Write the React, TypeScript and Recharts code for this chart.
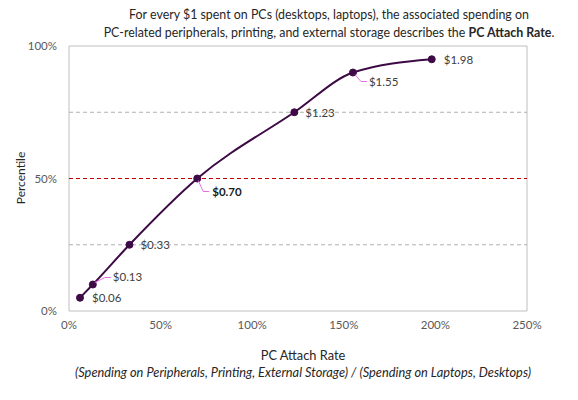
import {
    ComposedChart,
    Line,
    XAxis,
    YAxis,
    ReferenceLine,
    ReferenceArea,
    LabelList,
} from "recharts";

document.body.style.margin = "0";

const attachRates = [0.06, 0.13, 0.33, 0.7, 1.23, 1.55, 1.98];
const percentiles = [5, 10, 25, 50, 75, 90, 95];
const xTicks = [0, 0.5, 1, 1.5, 2, 2.5];
const yTicks = [0, 50, 100];

const chartData = attachRates.map((rate, i) => ({
    rate,
    pct: percentiles[i],
}));

const FONT = "Lato, 'Noto Sans', sans-serif";
const LINE_COLOR = "#3d0a45";
const LEADER_COLOR = "#e66ee6";

// where each point label sits relative to its dot, and an optional leader line
const labelPlacement = [
    { dx: 12, dy: 0 },
    { dx: 20, dy: -8, leader: [[2, -2], [12, -7], [18, -7]] },
    { dx: 11, dy: 0 },
    { dx: 15, dy: 13, bold: true, leader: [[1, 2], [6, 13], [12, 13]] },
    { dx: 11, dy: 0 },
    { dx: 16, dy: 9, leader: [[2, 2], [8, 9], [14, 9]] },
    { dx: 12, dy: 0 },
];

const renderPointLabel = (props: any) => {
    const { x, y, index } = props;
    const place = labelPlacement[index];
    const value = attachRates[index];
    return (
        <g>
            {place.leader && (
                <polyline
                    points={place.leader
                        .map(([px, py]) => `${x + px},${y + py}`)
                        .join(" ")}
                    fill="none"
                    stroke={LEADER_COLOR}
                    strokeWidth={1}
                />
            )}
            <text
                x={x + place.dx}
                y={y + place.dy}
                fill={place.bold ? "#1a1a1a" : "#404040"}
                fontSize={11.5}
                fontFamily={FONT}
                fontWeight={place.bold ? "bold" : "normal"}
                textAnchor="start"
                dominantBaseline="central"
            >
                {`$${value.toFixed(2)}`}
            </text>
        </g>
    );
};

const App = () => {
    return (
        <div style={{ position: "relative", width: 578, height: 400, fontFamily: FONT }}>
            <div
                style={{
                    position: "absolute",
                    top: 6,
                    left: 79,
                    width: 500,
                    textAlign: "center",
                    fontSize: 12.4,
                    lineHeight: "18px",
                    color: "#262626",
                }}
            >
                For every $1 spent on PCs (desktops, laptops), the associated spending on
                <br />
                PC-related peripherals, printing, and external storage describes the{" "}
                <b>PC Attach Rate</b>.
            </div>
            <ComposedChart
                width={578}
                height={400}
                data={chartData}
                margin={{ top: 46, right: 51, bottom: 0, left: 0 }}
            >
                <ReferenceArea
                    x1={0}
                    x2={2.5}
                    y1={0}
                    y2={100}
                    fill="none"
                    stroke="#bfbfbf"
                    strokeWidth={1}
                />
                <ReferenceLine y={25} stroke="#b0b0b0" strokeDasharray="4 3" />
                <ReferenceLine y={75} stroke="#b0b0b0" strokeDasharray="4 3" />
                <ReferenceLine y={50} stroke="#c00000" strokeDasharray="4 3" />
                <XAxis
                    type="number"
                    dataKey="rate"
                    domain={[0, 2.5]}
                    ticks={xTicks}
                    tickFormatter={(v) => `${Math.round(v * 100)}%`}
                    axisLine={false}
                    tickLine={false}
                    tickSize={0}
                    tickMargin={10}
                    tick={{ fontSize: 11.5, fill: "#595959", fontFamily: FONT }}
                    height={89}
                    interval={0}
                />
                <YAxis
                    type="number"
                    dataKey="pct"
                    domain={[0, 100]}
                    ticks={yTicks}
                    tickFormatter={(v) => `${v}%`}
                    axisLine={false}
                    tickLine={false}
                    tickSize={0}
                    tickMargin={12}
                    tick={{ fontSize: 11.5, fill: "#595959", fontFamily: FONT }}
                    width={69}
                    interval={0}
                />
                <Line
                    type="monotone"
                    dataKey="pct"
                    stroke={LINE_COLOR}
                    strokeWidth={2}
                    dot={{ r: 3.5, fill: LINE_COLOR, stroke: LINE_COLOR, strokeWidth: 1 }}
                    activeDot={false}
                    isAnimationActive={false}
                >
                    <LabelList dataKey="rate" content={renderPointLabel} />
                </Line>
            </ComposedChart>
            <div
                style={{
                    position: "absolute",
                    left: 8,
                    top: 178,
                    transform: "translate(-50%, -50%) rotate(-90deg)",
                    marginLeft: 12,
                    fontSize: 12,
                    color: "#262626",
                    whiteSpace: "nowrap",
                }}
            >
                Percentile
            </div>
            <div
                style={{
                    position: "absolute",
                    top: 347,
                    left: 0,
                    width: 606,
                    textAlign: "center",
                    fontSize: 12.8,
                    lineHeight: "17px",
                    color: "#262626",
                }}
            >
                PC Attach Rate
                <br />
                <i>
                    (Spending on Peripherals, Printing, External Storage) / (Spending on
                    Laptops, Desktops)
                </i>
            </div>
        </div>
    );
};

export default App;
